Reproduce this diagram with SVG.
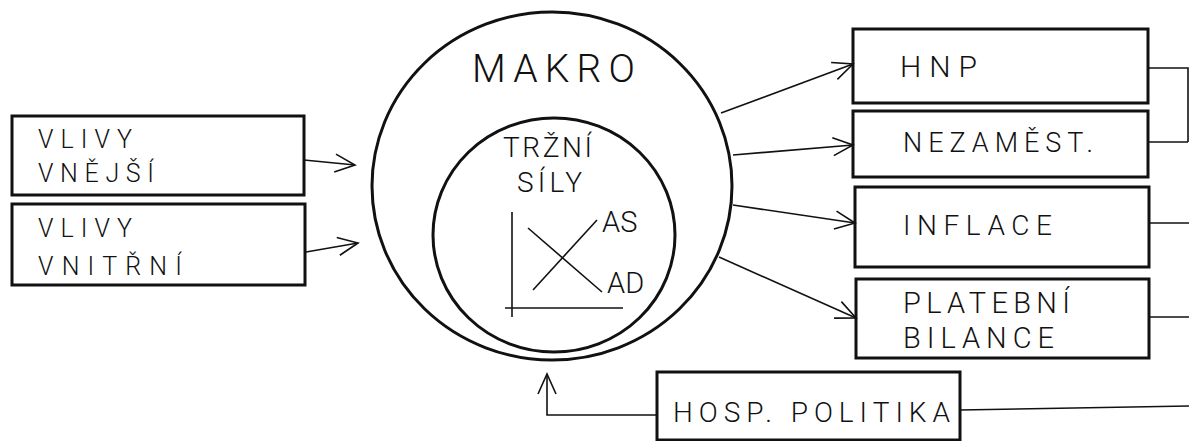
<svg xmlns="http://www.w3.org/2000/svg" width="1189" height="441" viewBox="0 0 1189 441">
<style>
.box{fill:none;stroke:#111;stroke-width:3}
.circ{fill:none;stroke:#111;stroke-width:3}
.ln{fill:none;stroke:#111;stroke-width:1.6}
.t{font-family:Roboto,"Liberation Sans",Arial,sans-serif;font-weight:300;fill:#111}
</style>
<defs>
<marker id="ah" markerUnits="userSpaceOnUse" markerWidth="30" markerHeight="30" refX="0" refY="0" viewBox="-25 -15 30 30" orient="auto" overflow="visible">
<path d="M -20 -9 L 0 0 L -20 9" fill="none" stroke="#111" stroke-width="1.6"/>
</marker>
</defs>
<rect width="1189" height="441" fill="#fff"/>
<g id="makro">
<ellipse class="circ" cx="552" cy="186" rx="180" ry="174"/>
<text class="t" x="472" y="82" font-size="39" textLength="163" lengthAdjust="spacing">MAKRO</text>
</g>
<g id="trzni-sily">
<ellipse class="circ" cx="554" cy="235" rx="121" ry="117"/>
<text class="t" x="503" y="157" font-size="28" textLength="89" lengthAdjust="spacing">TRŽNÍ</text>
<text class="t" x="517" y="192" font-size="28" textLength="65" lengthAdjust="spacing">SÍLY</text>
<line class="ln" x1="512" y1="212" x2="512" y2="317"/>
<line class="ln" x1="505" y1="308" x2="623" y2="308"/>
<line class="ln" x1="528" y1="228" x2="602" y2="292"/>
<line class="ln" x1="533" y1="290" x2="597" y2="220"/>
<text class="t" x="602" y="232" font-size="29">AS</text>
<text class="t" x="607" y="293" font-size="29">AD</text>
</g>
<g id="vlivy-vnejsi">
<rect class="box" x="12" y="116" width="292" height="79"/>
<text class="t" x="38" y="148" font-size="25" textLength="94" lengthAdjust="spacing">VLIVY</text>
<text class="t" x="38" y="182" font-size="25" textLength="116" lengthAdjust="spacing">VNĚJŠÍ</text>
</g>
<g id="vlivy-vnitrni">
<rect class="box" x="12" y="204" width="293" height="81"/>
<text class="t" x="38" y="237" font-size="25" textLength="94" lengthAdjust="spacing">VLIVY</text>
<text class="t" x="38" y="275" font-size="25" textLength="144" lengthAdjust="spacing">VNITŘNÍ</text>
</g>
<g id="hnp">
<rect class="box" x="853" y="29" width="295" height="74"/>
<text class="t" x="900" y="77" font-size="30" textLength="77" lengthAdjust="spacing">HNP</text>
</g>
<g id="nezamest">
<rect class="box" x="853" y="111" width="295" height="66"/>
<text class="t" x="903" y="152" font-size="27" textLength="190" lengthAdjust="spacing">NEZAMĚST.</text>
</g>
<g id="inflace">
<rect class="box" x="855" y="187" width="294" height="80"/>
<text class="t" x="903" y="235" font-size="28" textLength="149" lengthAdjust="spacing">INFLACE</text>
</g>
<g id="platebni-bilance">
<rect class="box" x="856" y="279" width="293" height="79"/>
<text class="t" x="903" y="313" font-size="29" textLength="167" lengthAdjust="spacing">PLATEBNÍ</text>
<text class="t" x="903" y="348" font-size="29" textLength="151" lengthAdjust="spacing">BILANCE</text>
</g>
<g id="hosp-politika">
<rect class="box" x="657" y="372" width="303" height="68"/>
<text class="t" x="673" y="422" font-size="28" textLength="277" lengthAdjust="spacing">HOSP. POLITIKA</text>
</g>
<g id="connectors">
<line class="ln" x1="304" y1="160" x2="355" y2="165" marker-end="url(#ah)"/>
<line class="ln" x1="306" y1="252" x2="358" y2="243" marker-end="url(#ah)"/>
<line class="ln" x1="721" y1="113" x2="853" y2="64" marker-end="url(#ah)"/>
<line class="ln" x1="733" y1="155" x2="853" y2="145" marker-end="url(#ah)"/>
<line class="ln" x1="733" y1="205" x2="855" y2="223" marker-end="url(#ah)"/>
<line class="ln" x1="719" y1="257" x2="856" y2="318" marker-end="url(#ah)"/>
<polyline class="ln" points="657,415 547,415 547,374" marker-end="url(#ah)"/>
<polyline class="ln" points="1148,68 1188,68 1188,142"/>
<line class="ln" x1="1148" y1="142" x2="1188" y2="142"/>
<line class="ln" x1="1149" y1="223" x2="1189" y2="223"/>
<line class="ln" x1="1149" y1="317" x2="1189" y2="317"/>
<line class="ln" x1="960" y1="410" x2="1189" y2="406"/>
</g>
</svg>
